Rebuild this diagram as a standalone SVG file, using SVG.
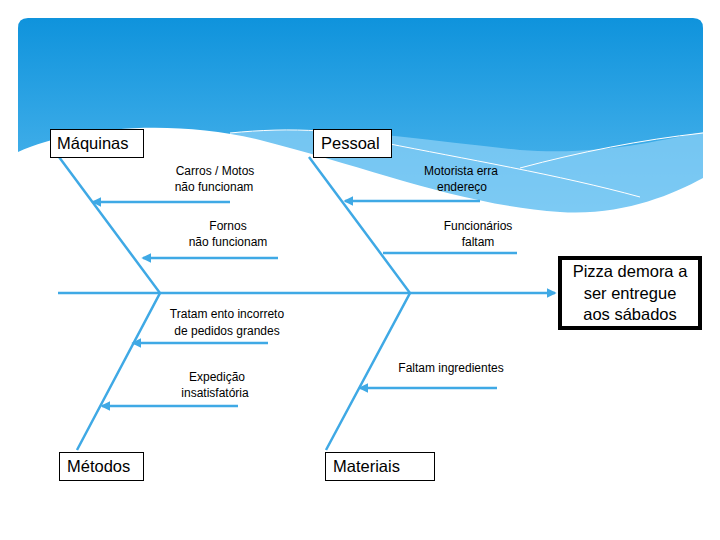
<svg xmlns="http://www.w3.org/2000/svg" width="720" height="540" viewBox="0 0 720 540">
<defs>
<linearGradient id="bg" x1="0" y1="0" x2="0" y2="1">
<stop offset="0" stop-color="#0f93dc"/>
<stop offset="1" stop-color="#5cbdf0"/>
</linearGradient>
<marker id="ah" viewBox="0 0 6 6" refX="5" refY="3" markerWidth="4" markerHeight="4" orient="auto">
<path d="M0,0 L6,3 L0,6 z" fill="#3fa9e5"/>
</marker>
<style>
.bone{stroke:#3fa9e5;stroke-width:2.5;fill:none}
.sub{stroke:#3fa9e5;stroke-width:2.5;fill:none;marker-end:url(#ah)}
.box{fill:#fff;stroke:#000;stroke-width:1}
.cat{font-family:"Liberation Sans",Arial,sans-serif;font-size:16.5px;fill:#000}
.lbl{font-family:"Liberation Sans",Arial,sans-serif;font-size:12px;fill:#000;text-anchor:middle}
.eff{font-family:"Liberation Sans",Arial,sans-serif;font-size:16.5px;fill:#000;text-anchor:middle}
</style>
</defs>
<rect width="720" height="540" fill="#fff"/>
<g id="background">
<path d="M28,18 H693 Q703,18 703,28 V240 H18 V28 Q18,18 28,18 z" fill="url(#bg)"/>
<path d="M230,133 C330,124 420,140 520,150 C600,156 660,140 703,132 V240 H230 z" fill="#8fd2f6" opacity="0.7"/>
<path d="M18,152 C70,128 170,118 260,140 C370,168 460,205 560,212 C620,216 670,196 703,178 V250 H18 z" fill="#fff"/>
<path d="M230,133 C260,130 290,129 320,131" stroke="#fff" stroke-width="1" fill="none"/>
<path d="M385,143 C460,158 560,175 640,197" stroke="#fff" stroke-width="1" fill="none"/>
<path d="M520,168 C580,152 640,140 703,133" stroke="#fff" stroke-width="1" fill="none"/>
</g>
<g id="connectors">
<line class="sub" x1="58" y1="293" x2="555" y2="293"/>
<polyline class="bone" points="59,157 160,293 77,450"/>
<polyline class="bone" points="309,157 410,293 326,450"/>
<line class="sub" x1="230" y1="202" x2="93" y2="202"/>
<line class="sub" x1="278" y1="258" x2="143" y2="258"/>
<line class="sub" x1="480" y1="201" x2="345" y2="201"/>
<line class="bone" x1="517" y1="253" x2="383" y2="253"/>
<line class="sub" x1="268" y1="343" x2="133" y2="343"/>
<line class="sub" x1="238" y1="406" x2="102" y2="406"/>
<line class="sub" x1="497" y1="388" x2="360" y2="388"/>
</g>
<g id="maquinas"><rect class="box" x="50.5" y="129.5" width="93" height="28"/><text class="cat" x="57" y="149">Máquinas</text></g>
<g id="pessoal"><rect class="box" x="313.5" y="129.5" width="78" height="28"/><text class="cat" x="321" y="149">Pessoal</text></g>
<g id="metodos"><rect class="box" x="59.5" y="452.5" width="84" height="28"/><text class="cat" x="67" y="472">Métodos</text></g>
<g id="materiais"><rect class="box" x="325.5" y="452.5" width="109" height="28"/><text class="cat" x="333" y="472">Materiais</text></g>
<g id="efeito"><rect x="560" y="258" width="140" height="70" fill="#fff" stroke="#000" stroke-width="4"/>
<text class="eff" x="630" y="277">Pizza demora a</text>
<text class="eff" x="630" y="299">ser entregue</text>
<text class="eff" x="630" y="320">aos sábados</text></g>
<g id="carros"><text class="lbl" x="215" y="175">Carros / Motos</text><text class="lbl" x="214" y="191">não funcionam</text></g>
<g id="fornos"><text class="lbl" x="228" y="230">Fornos</text><text class="lbl" x="228" y="246">não funcionam</text></g>
<g id="motorista"><text class="lbl" x="461" y="175">Motorista erra</text><text class="lbl" x="462" y="191">endereço</text></g>
<g id="funcionarios"><text class="lbl" x="478" y="230">Funcionários</text><text class="lbl" x="478" y="246">faltam</text></g>
<g id="tratamento"><text class="lbl" x="227" y="318">Tratam ento incorreto</text><text class="lbl" x="227" y="335">de pedidos grandes</text></g>
<g id="expedicao"><text class="lbl" x="217" y="381">Expedição</text><text class="lbl" x="215" y="397">insatisfatória</text></g>
<g id="faltam"><text class="lbl" x="451" y="372">Faltam ingredientes</text></g>
</svg>
